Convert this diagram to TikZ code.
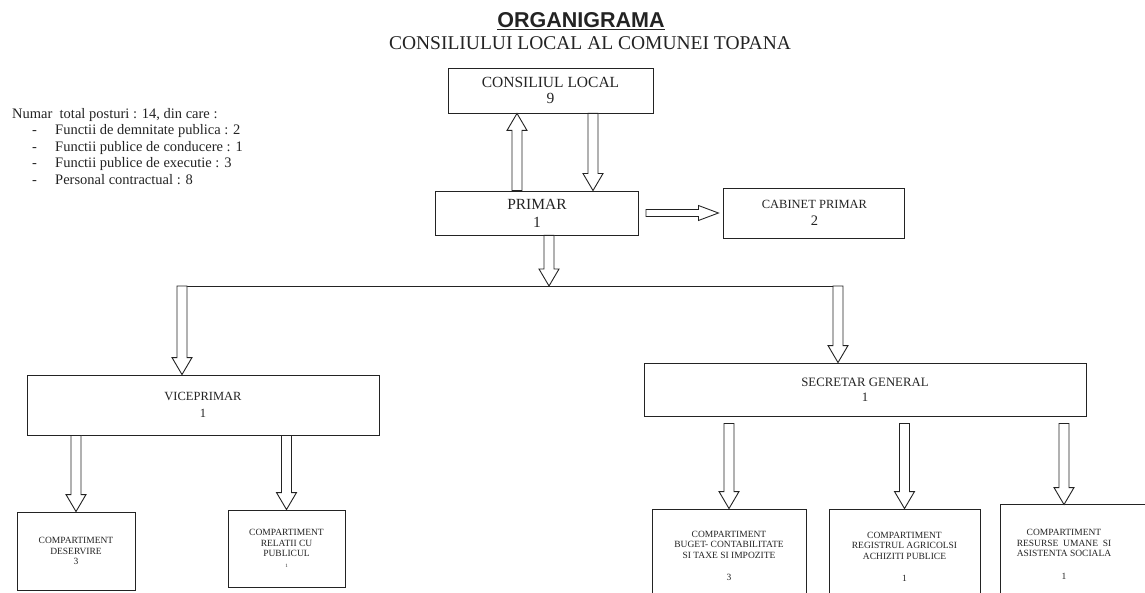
\documentclass[tikz,border=0pt]{standalone}
\usepackage{fontspec}
\setmainfont{Liberation Serif}
\newfontfamily\titlefont{Liberation Sans}
\usepackage{xcolor}
\usepackage{tikz}
\usetikzlibrary{positioning,calc}
\definecolor{ink}{RGB}{35,35,35}
\newcommand{\fs}[2]{\fontsize{#1}{#2}\selectfont}
% hollow block arrow: [shaft half width/head half width/head length]{from}{to}
\newcommand{\blockarrow}[3][5/10/17]{%
  \foreach \sw/\hw/\hl in {#1}{%
    \coordinate (hb) at ($(#3)!\hl pt!(#2)$);
    \draw[arrowline] ($(#2)!\sw pt!90:(#3)$) -- ($(hb)!\sw pt!90:(#3)$) -- ($(hb)!\hw pt!90:(#3)$) -- (#3)
      -- ($(hb)!\hw pt!-90:(#3)$) -- ($(hb)!\sw pt!-90:(#3)$) -- ($(#2)!\sw pt!-90:(#3)$) -- cycle;
  }%
}

\begin{document}
\begin{tikzpicture}[
    x=1pt, y=-1pt,
    box/.style={rectangle, draw=ink, line width=0.9pt, inner sep=0pt, align=center, text=ink},
    smallbox/.style={rectangle, draw=ink, line width=0.9pt, inner sep=0pt, align=center, text=ink, font=\fs{9.5}{10.5}},
    arrowline/.style={draw=ink, line width=0.9pt, fill=white, line join=miter},
    boxline/.style={draw=ink, line width=0.9pt},
]
\useasboundingbox (0,0) rectangle (1145,593);
\clip (0,0) rectangle (1145,593);

% === TITLE ===
\node[anchor=base, font=\titlefont\bfseries\fs{21.5}{24}, text=ink] (title) at (581,28) {\underline{ORGANIGRAMA}};
\node[anchor=base, font=\fs{19.5}{22}, text=ink] (subtitle) at (590,50) {CONSILIULUI LOCAL AL COMUNEI TOPANA};

% === SUMMARY ===
\node[anchor=north west, inner sep=0pt, align=left, font=\fs{14.5}{16.5}, text=ink] (summary) at (12,108) {%
Numar\ \ total posturi : 14, din care :\\
\hspace*{20pt}\makebox[23pt][l]{-}Functii de demnitate publica : 2\\
\hspace*{20pt}\makebox[23pt][l]{-}Functii publice de conducere : 1\\
\hspace*{20pt}\makebox[23pt][l]{-}Functii publice de executie : 3\\
\hspace*{20pt}\makebox[23pt][l]{-}Personal contractual : 8};

% === TOP LEVEL ===
\node[box, minimum width=205pt, minimum height=45pt, font=\fs{15.5}{16}] (council) at (550.5,90.5) {CONSILIUL LOCAL\\9};
\node[box, minimum width=203pt, minimum height=44pt, font=\fs{15.5}{18}] (primar) at (537,213) {PRIMAR\\1};
\node[box, minimum width=181pt, minimum height=50pt, font=\fs{12.5}{17}, right=84.5pt of primar] (cabinet) {CABINET PRIMAR\\{\fs{14.5}{17}2}};

% === SECOND LEVEL ===
\node[box, minimum width=352pt, minimum height=60pt, font=\fs{12.5}{17}] (vice) at (203,405) {VICEPRIMAR\\1};
\node[box, minimum width=442pt, minimum height=53pt, font=\fs{12.8}{15}] (secretar) at (865,389.5) {SECRETAR GENERAL\\1};

% === COMPARTIMENTE ===
\node[smallbox, minimum width=118pt, minimum height=78pt] (deservire) at (76,551) {COMPARTIMENT\\DESERVIRE\\3};
\node[smallbox, minimum width=117pt, minimum height=77pt] (relatii) at (286.5,548.5) {COMPARTIMENT\\RELATII CU\\PUBLICUL\\{\fs{5}{6}1}};
\node[smallbox, minimum width=154pt, minimum height=94pt] (buget) at (729,556) {COMPARTIMENT\\BUGET- CONTABILITATE\\SI TAXE SI IMPOZITE\\[12pt]3};
\node[smallbox, minimum width=151pt, minimum height=96pt] (registrul) at (904.5,557) {COMPARTIMENT\\REGISTRUL AGRICOLSI\\ACHIZITI PUBLICE\\[12pt]1};
\node[smallbox, draw=none, minimum width=126pt, minimum height=99pt] (resurse) at (1064,554.5) {COMPARTIMENT\\RESURSE\ \ UMANE\ \ SI\\ASISTENTA SOCIALA\\[12pt]1};
\draw[boxline] ([xshift=100pt]resurse.north east) -- (resurse.north west) -- (resurse.south west);

% === HELPER COORDINATES ===
\coordinate (upx) at (517,0);
\coordinate (dnx) at (593,0);
\coordinate (pdx) at (549,0);
\coordinate (busL) at (182,286);
\coordinate (busR) at (838,286);
\coordinate (sg1) at ($(secretar.south -| buget)+(0,7)$);
\coordinate (sg2) at ($(secretar.south -| registrul)+(0,7)$);
\coordinate (sg3) at ($(secretar.south -| resurse)+(0,7)$);

% === ARROWS ===
\blockarrow{primar.north -| upx}{council.south -| upx}
\blockarrow{council.south -| dnx}{primar.north -| dnx}
\blockarrow[3.5/7.5/20]{[xshift=7pt]primar.east}{[xshift=-5pt]cabinet.west}
\draw[boxline] (busL) -- (busR);
\blockarrow{primar.south -| pdx}{busL -| pdx}
\blockarrow{busL}{vice.north -| busL}
\blockarrow{busR}{secretar.north -| busR}
\blockarrow{vice.south -| deservire}{deservire.north}
\blockarrow{vice.south -| relatii}{relatii.north}
\blockarrow{sg1}{buget.north}
\blockarrow{sg2}{registrul.north}
\blockarrow{sg3}{resurse.north}

\end{tikzpicture}
\end{document}
